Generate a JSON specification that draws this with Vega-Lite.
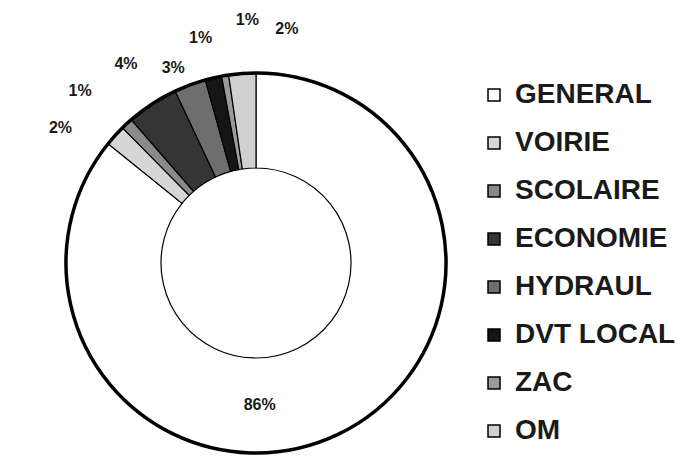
{
  "$schema": "https://vega.github.io/schema/vega-lite/v6.json",
  "width": 512,
  "height": 386,
  "autosize": {"type": "none"},
  "padding": {"left": 0, "top": 70, "right": 165, "bottom": 4},
  "background": "white",
  "config": {"view": {"stroke": null}, "font": "Liberation Sans", "text": {"font": "Liberation Sans", "fontWeight": "bold", "fontSize": 16, "color": "#1a1a1a", "radius": 238}},
  "data": {
    "values": [
      {"idx": 1, "categorie": "GENERAL", "part": 85.8, "label": "86%"},
      {"idx": 2, "categorie": "VOIRIE", "part": 1.8, "label": "2%"},
      {"idx": 3, "categorie": "SCOLAIRE", "part": 1.0, "label": "1%"},
      {"idx": 4, "categorie": "ECONOMIE", "part": 4.4, "label": "4%"},
      {"idx": 5, "categorie": "HYDRAUL", "part": 2.7, "label": "3%"},
      {"idx": 6, "categorie": "DVT LOCAL", "part": 1.4, "label": "1%"},
      {"idx": 7, "categorie": "ZAC", "part": 0.6, "label": "1%"},
      {"idx": 8, "categorie": "OM", "part": 2.3, "label": "2%"}
    ]
  },
  "encoding": {
    "theta": {"field": "part", "type": "quantitative", "stack": true},
    "order": {"field": "idx", "type": "quantitative"}
  },
  "layer": [
    {
      "mark": {"type": "arc", "outerRadius": 190, "innerRadius": 95, "stroke": "black", "strokeWidth": 1.2},
      "encoding": {
        "color": {
          "field": "categorie",
          "type": "nominal",
          "sort": ["GENERAL", "VOIRIE", "SCOLAIRE", "ECONOMIE", "HYDRAUL", "DVT LOCAL", "ZAC", "OM"],
          "scale": {
            "domain": ["GENERAL", "VOIRIE", "SCOLAIRE", "ECONOMIE", "HYDRAUL", "DVT LOCAL", "ZAC", "OM"],
            "range": ["#ffffff", "#d6d6d6", "#8a8a8a", "#353535", "#6e6e6e", "#151515", "#9a9a9a", "#d0d0d0"]
          },
          "legend": {
            "title": null,
            "orient": "none",
            "legendX": 480,
            "legendY": 11,
            "symbolType": "square",
            "symbolSize": 144,
            "symbolStrokeColor": "black",
            "symbolStrokeWidth": 1.5,
            "labelFont": "Liberation Sans",
            "labelFontWeight": "bold",
            "labelFontSize": 28,
            "labelColor": "#1a1a1a",
            "labelOffset": 7,
            "rowPadding": 20,
            "padding": 0,
            "labelLimit": 200
          }
        }
      }
    },
    {
      "mark": {"type": "arc", "outerRadius": 190, "innerRadius": 190, "fill": null, "stroke": "black", "strokeWidth": 3.5}
    },
    {
      "mark": {"type": "text", "radius": 143, "dx": -58, "dy": 13},
      "encoding": {"text": {"condition": {"test": "datum.categorie !== 'GENERAL'", "value": ""}, "field": "label", "type": "nominal"}}
    },
    {
      "mark": {"type": "text", "dx": -19, "dy": 25},
      "encoding": {"text": {"condition": {"test": "datum.categorie !== 'VOIRIE'", "value": ""}, "field": "label", "type": "nominal"}}
    },
    {
      "mark": {"type": "text", "dx": -14, "dy": 3},
      "encoding": {"text": {"condition": {"test": "datum.categorie !== 'SCOLAIRE'", "value": ""}, "field": "label", "type": "nominal"}}
    },
    {
      "mark": {"type": "text"},
      "encoding": {"text": {"condition": {"test": "datum.categorie !== 'ECONOMIE'", "value": ""}, "field": "label", "type": "nominal"}}
    },
    {
      "mark": {"type": "text", "dx": 0, "dy": 28},
      "encoding": {"text": {"condition": {"test": "datum.categorie !== 'HYDRAUL'", "value": ""}, "field": "label", "type": "nominal"}}
    },
    {
      "mark": {"type": "text", "dx": -2, "dy": 7},
      "encoding": {"text": {"condition": {"test": "datum.categorie !== 'DVT LOCAL'", "value": ""}, "field": "label", "type": "nominal"}}
    },
    {
      "mark": {"type": "text", "dx": 30, "dy": -8},
      "encoding": {"text": {"condition": {"test": "datum.categorie !== 'ZAC'", "value": ""}, "field": "label", "type": "nominal"}}
    },
    {
      "mark": {"type": "text", "dx": 48, "dy": 3},
      "encoding": {"text": {"condition": {"test": "datum.categorie !== 'OM'", "value": ""}, "field": "label", "type": "nominal"}}
    }
  ]
}
